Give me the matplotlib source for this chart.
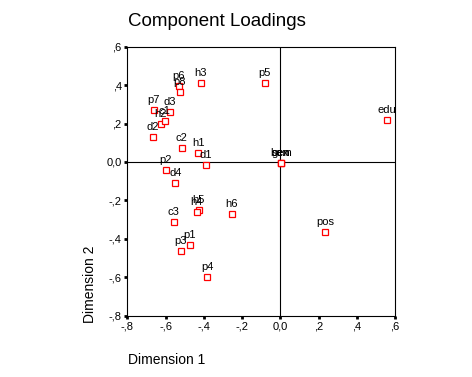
"""Component loadings plot."""
import matplotlib
matplotlib.use('Agg')
from matplotlib import pyplot as plt
from matplotlib import ticker

plt.rcParams['font.family'] = ['Liberation Sans', 'DejaVu Sans']

labels = ['p6', 'p8', 'h3', 'p5', 'p7', 'h2', 'c1', 'd3', 'd2', 'c2', 'h1', 'd1',
          'p2', 'd4', 'gen', 'bem', 'sex', 'edu', 'pos', 'h5', 'h4', 'h6', 'c3',
          'p1', 'p3', 'p4']
dim1 = [-0.532, -0.527, -0.417, -0.082, -0.661, -0.626, -0.605, -0.579, -0.668,
        -0.516, -0.429, -0.391, -0.600, -0.548, 0.002, 0.002, 0.002, 0.556,
        0.235, -0.427, -0.438, -0.255, -0.558, -0.474, -0.521, -0.382]
dim2 = [0.396, 0.364, 0.410, 0.413, 0.273, 0.200, 0.212, 0.259, 0.132, 0.071,
        0.049, -0.017, -0.040, -0.107, -0.003, -0.003, -0.003, 0.221, -0.362,
        -0.248, -0.258, -0.272, -0.310, -0.430, -0.461, -0.597]

ticks = [-0.8, -0.6, -0.4, -0.2, 0.0, 0.2, 0.4, 0.6]


def spss_fmt(v, pos=None):
    if abs(v) < 1e-9:
        return '0,0'
    s = '%.1f' % v
    s = s.replace('0.', '.').replace('.', ',')
    return s


fig = plt.figure(figsize=(4.72, 3.77), dpi=100)
fig.set_facecolor('white')
ax = fig.add_axes([0.2697, 0.1626, 0.5672, 0.7135])

ax.axhline(0, color='black', lw=0.8, zorder=1)
ax.axvline(0, color='black', lw=0.8, zorder=1)

ax.plot(dim1, dim2, 's', markersize=4.2, markerfacecolor='white',
        markeredgecolor='red', markeredgewidth=0.9, zorder=3)
for lab, x, y in zip(labels, dim1, dim2):
    ax.annotate(lab, (x, y), xytext=(0, 5), textcoords='offset points',
                ha='center', va='baseline', fontsize=8)

ax.set_xlim(-0.8, 0.6)
ax.set_ylim(-0.8, 0.6)
ax.set_xticks(ticks)
ax.set_yticks(ticks)
ax.xaxis.set_major_formatter(ticker.FuncFormatter(spss_fmt))
ax.yaxis.set_major_formatter(ticker.FuncFormatter(spss_fmt))
ax.tick_params(direction='out', length=2, width=2, labelsize=8, pad=2)
for sp in ax.spines.values():
    sp.set_linewidth(0.8)

fig.text(128 / 472, 1 - 21 / 377, 'Component Loadings', fontsize=13.5,
         ha='left', va='center')
fig.text(128 / 472, 1 - 360 / 377, 'Dimension 1', fontsize=10,
         ha='left', va='center')
fig.text(90 / 472, 1 - 323 / 377, 'Dimension 2', fontsize=10,
         rotation=90, ha='center', va='bottom')

fig.savefig('out.png', dpi=100)
